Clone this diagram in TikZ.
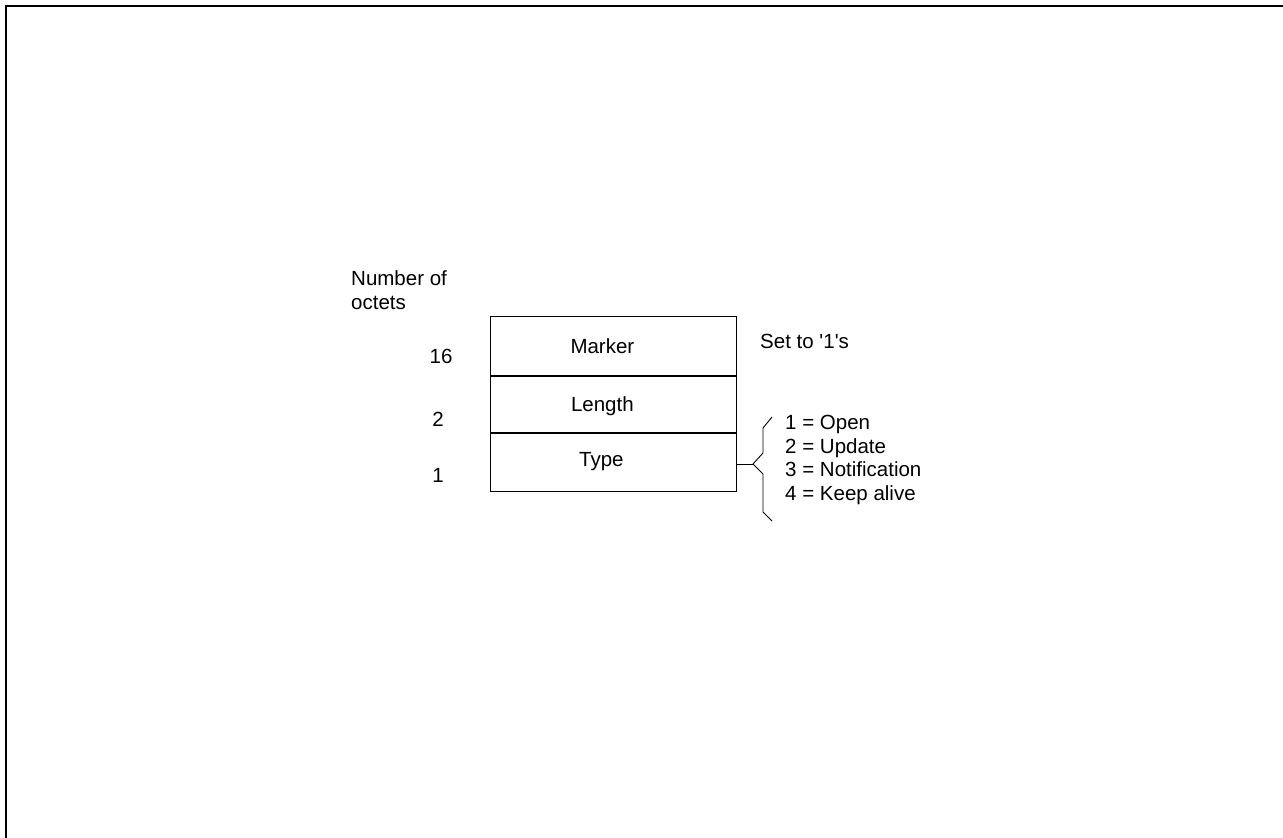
\documentclass[tikz,border=0pt]{standalone}
\usepackage{fontspec}
\setmainfont{Liberation Sans}
\usepackage{tikz}
\usetikzlibrary{positioning}

\begin{document}
\begin{tikzpicture}[x=1pt,y=-1pt,node distance=0mm,
    lbl/.style={font=\fontsize{20.5}{23.5}\selectfont,inner sep=0pt},
    field/.style={draw,line width=0.8pt,minimum width=246pt,inner sep=0pt}]
    \useasboundingbox (0,0) rectangle (1283,838);
    % frame edges
    \draw[line width=2.4pt] (6,838) -- (6,6) -- (1283,6);
    % message header fields
    \node[field,minimum height=59pt,anchor=north west,
          label={[lbl,xshift=-11pt]center:Marker}] (marker) at (490,316) {};
    \node[field,minimum height=56pt,below=0mm of marker,
          label={[lbl,xshift=-11pt,yshift=-2pt]center:Length}] (length) {};
    \node[field,minimum height=58pt,below=0mm of length,
          label={[lbl,xshift=-12pt]center:Type}] (type) {};
    % octet counts
    \node[lbl,align=left,anchor=west] (numhead) at (351,290) {Number of\\octets};
    \node[lbl] (n16) at (441,356) {16};
    \node[lbl] (n2) at (438,419) {2};
    \node[lbl] (n1) at (438,475) {1};
    % notes
    \node[lbl,anchor=west] (ones) at (760,341) {Set to \textquotesingle 1\textquotesingle s};
    \node[lbl,align=left,anchor=west] (codes) at (785,460)
        {1 = Open\\2 = Update\\3 = Notification\\4 = Keep alive};
    \coordinate (tip) at (753,464);
    \draw[line width=0.8pt] (type.east |- tip) -- (tip);
    \draw[line width=0.9pt,line join=round] (772,417) -- (763,428) -- (763,453) -- (tip)
        -- (763,474) -- (763,512) -- (772,521);
  \end{tikzpicture}
\end{document}
